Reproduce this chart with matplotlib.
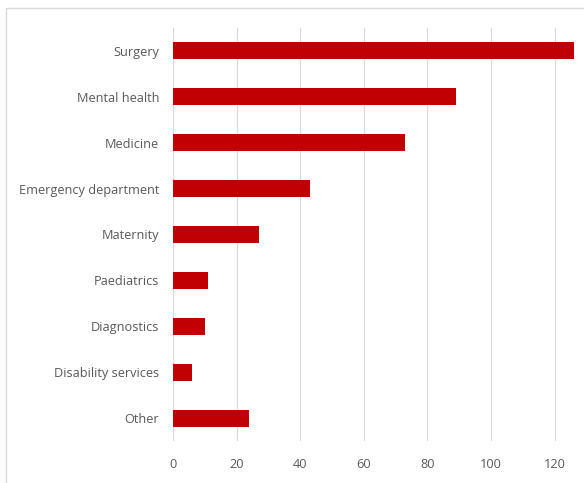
import matplotlib
matplotlib.use("Agg")
import matplotlib.pyplot as plt
from matplotlib.patches import Rectangle

categories = ["Surgery", "Mental health", "Medicine", "Emergency department",
              "Maternity", "Paediatrics", "Diagnostics", "Disability services", "Other"]
values = [126, 89, 73, 43, 27, 11, 10, 6, 24]
xticks = [0, 20, 40, 60, 80, 100, 120]

plt.rcParams['font.family'] = ['Open Sans', 'DejaVu Sans']

fig = plt.figure(figsize=(5.84, 4.83), dpi=100)
fig.patches.append(Rectangle((6/584, -0.1), 1.2, 1 - 8/483 + 0.1,
                             transform=fig.transFigure, fill=False,
                             edgecolor="#D9D9D9", linewidth=1.0))

ax = fig.add_axes([173/584, 1 - 441/483, 1 - 173/584, (441 - 28)/483])
y = list(range(len(categories)))
ax.barh(y, values, height=0.37, color="#C00000", zorder=3)
ax.set_ylim(len(categories) - 0.5, -0.5)
ax.set_xlim(0, 129.2)
ax.set_yticks(y)
ax.set_yticklabels(categories)
ax.set_xticks(xticks)
ax.grid(axis="x", color="#D9D9D9", linewidth=0.8, zorder=0)
for s in ax.spines.values():
    s.set_visible(False)
ax.tick_params(length=0, labelsize=9.2, colors="#595959", pad=12)
ax.tick_params(axis="y", pad=10)

fig.savefig("out.png", dpi=100)
